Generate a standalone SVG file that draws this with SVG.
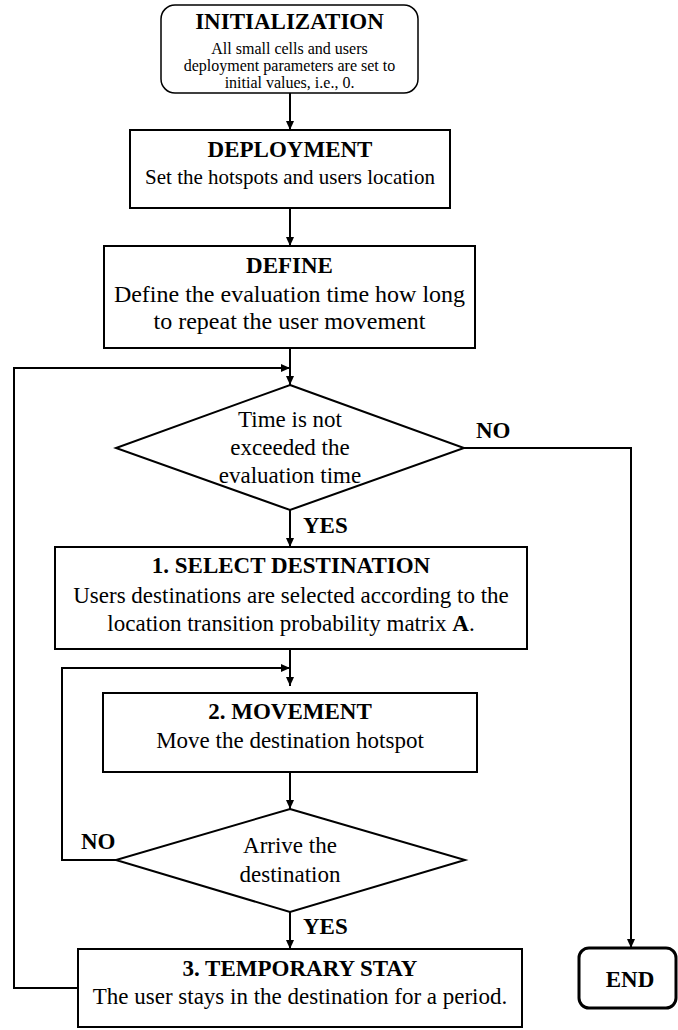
<svg xmlns="http://www.w3.org/2000/svg" width="678" height="1030" viewBox="0 0 678 1030">
  <style>
    .box { fill: #fff; stroke: #000; stroke-width: 2; }
    .term { fill: #fff; stroke: #000; stroke-width: 1.5; }
    .endbox { fill: #fff; stroke: #000; stroke-width: 3; }
    .wire { fill: none; stroke: #000; stroke-width: 2; }
    text { font-family: "Liberation Serif", "Times New Roman", serif; fill: #000; text-anchor: middle; }
    .t { font-weight: bold; font-size: 23px; }
    .b { font-size: 23px; }
    .lbl { font-weight: bold; font-size: 23px; text-anchor: start; }
  </style>
  <defs>
    <marker id="arrow" markerUnits="userSpaceOnUse" markerWidth="10" markerHeight="8" refX="9" refY="4" orient="auto">
      <path d="M0,0 L9,4 L0,8 Z" fill="#000"/>
    </marker>
  </defs>

  <!-- connectors -->
  <g id="connectors">
    <line class="wire" x1="290" y1="93" x2="290" y2="130" marker-end="url(#arrow)"/>
    <line class="wire" x1="290" y1="208" x2="290" y2="246" marker-end="url(#arrow)"/>
    <line class="wire" x1="290" y1="348" x2="290" y2="385" marker-end="url(#arrow)"/>
    <polyline class="wire" points="78,988 14,988 14,368 290,368" marker-end="url(#arrow)"/>
    <polyline class="wire" points="464,448 631,448 631,948" marker-end="url(#arrow)"/>
    <line class="wire" x1="290" y1="510" x2="290" y2="547" marker-end="url(#arrow)"/>
    <line class="wire" x1="290" y1="649" x2="290" y2="686" marker-end="url(#arrow)"/>
    <polyline class="wire" points="116,860 62,860 62,668 290,668" marker-end="url(#arrow)"/>
    <line class="wire" x1="290" y1="772" x2="290" y2="809" marker-end="url(#arrow)"/>
    <line class="wire" x1="290" y1="912" x2="290" y2="949" marker-end="url(#arrow)"/>
    <text class="lbl" x="476" y="438">NO</text>
    <text class="lbl" x="303" y="533">YES</text>
    <text class="lbl" x="81" y="849">NO</text>
    <text class="lbl" x="303" y="934">YES</text>
  </g>

  <!-- start terminal -->
  <g id="init">
    <rect class="term" x="161" y="5" width="257" height="88" rx="14"/>
    <text class="t" x="289.5" y="29">INITIALIZATION</text>
    <text x="289.5" y="54" font-size="16">All small cells and users</text>
    <text x="289.5" y="71" font-size="16">deployment parameters are set to</text>
    <text x="289.5" y="88" font-size="16">initial values, i.e., 0.</text>
  </g>

  <g id="deployment">
    <rect class="box" x="130" y="130" width="320" height="78"/>
    <text class="t" x="290" y="157">DEPLOYMENT</text>
    <text x="290" y="184" font-size="21">Set the hotspots and users location</text>
  </g>

  <g id="define">
    <rect class="box" x="104" y="246" width="371" height="102"/>
    <text class="t" x="289.5" y="273">DEFINE</text>
    <text x="289.5" y="302" font-size="24">Define the evaluation time how long</text>
    <text x="289.5" y="329" font-size="24">to repeat the user movement</text>
  </g>

  <g id="time-check">
    <polygon class="box" points="290,385 464,448 290,510 116,448"/>
    <text class="b" x="290" y="427">Time is not</text>
    <text class="b" x="290" y="455">exceeded the</text>
    <text class="b" x="290" y="483">evaluation time</text>
  </g>

  <g id="select-destination">
    <rect class="box" x="55" y="547" width="472" height="102"/>
    <text class="t" x="291" y="573">1. SELECT DESTINATION</text>
    <text class="b" x="291" y="603">Users destinations are selected according to the</text>
    <text class="b" x="291" y="631">location transition probability matrix <tspan font-weight="bold">A</tspan>.</text>
  </g>

  <g id="movement">
    <rect class="box" x="103" y="693" width="374" height="79"/>
    <text class="t" x="290" y="719">2. MOVEMENT</text>
    <text class="b" x="290" y="748">Move the destination hotspot</text>
  </g>

  <g id="arrive-check">
    <polygon class="box" points="290,809 465,860 290,912 116,860"/>
    <text class="b" x="290" y="853">Arrive the</text>
    <text class="b" x="290" y="882">destination</text>
  </g>

  <g id="temporary-stay">
    <rect class="box" x="78" y="949" width="444" height="78"/>
    <text class="t" x="300" y="976">3. TEMPORARY STAY</text>
    <text class="b" x="300" y="1004">The user stays in the destination for a period.</text>
  </g>

  <!-- end terminal -->
  <g id="end">
    <rect class="endbox" x="579" y="948" width="97" height="60" rx="10"/>
    <text class="t" x="630" y="987">END</text>
  </g>
</svg>
